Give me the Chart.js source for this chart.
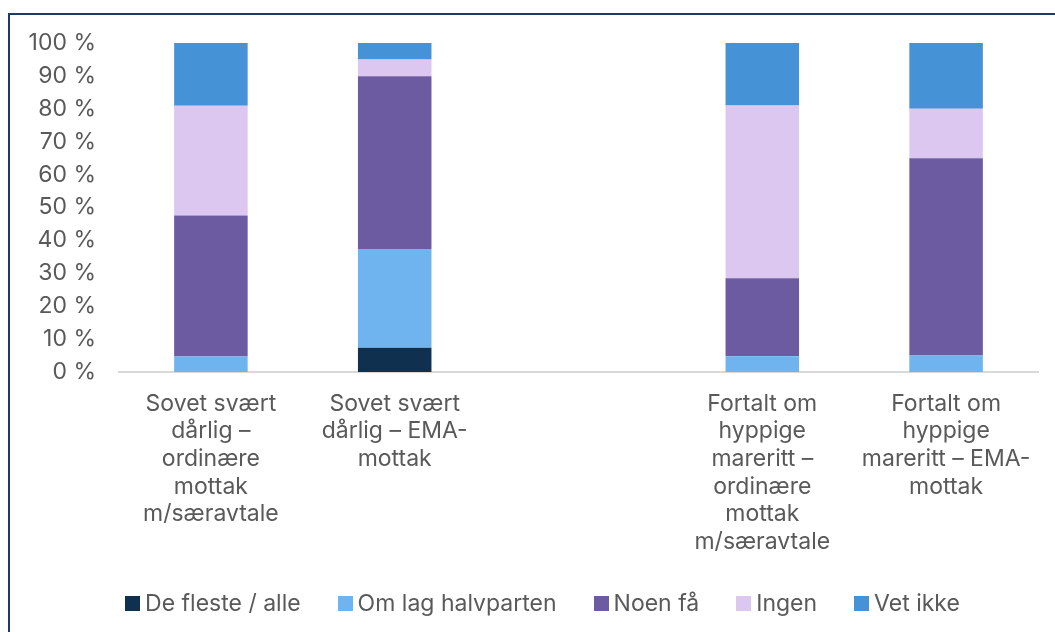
<!DOCTYPE html>
<html>
<head>
<meta charset="utf-8">
<script src="https://cdn.jsdelivr.net/npm/chart.js@4.4.1/dist/chart.umd.min.js"></script>
<style>
  html, body { margin: 0; padding: 0; background: #fff; overflow: hidden; }
  #wrap { position: absolute; left: 0; top: 0; width: 1055px; height: 632px; }
  #frame { position: absolute; left: 8px; top: 13px; width: 1100px; height: 700px; border: 2px solid #1f3864; box-sizing: border-box; pointer-events: none; }
  canvas { position: absolute; left: 0; top: 0; }
</style>
</head>
<body>
<div id="wrap">
  <canvas id="c" width="1055" height="632"></canvas>
  <div id="frame"></div>
</div>
<script>
const categories = [
  ["Sovet svært", "dårlig –", "ordinære", "mottak", "m/særavtale"],
  ["Sovet svært", "dårlig – EMA-", "mottak"],
  [""],
  ["Fortalt om", "hyppige", "mareritt –", "ordinære", "mottak", "m/særavtale"],
  ["Fortalt om", "hyppige", "mareritt – EMA-", "mottak"]
];
const seriesNames = ["De fleste / alle", "Om lag halvparten", "Noen få", "Ingen", "Vet ikke"];
const deFleste = [0, 7.4, null, 0, 0];
const omLagHalvparten = [4.7, 30, null, 4.8, 5];
const noenFa = [42.9, 52.5, null, 23.7, 60];
const ingen = [33.3, 5.1, null, 52.5, 15];
const vetIkke = [19.1, 5, null, 19, 20];
const yTicks = [0, 10, 20, 30, 40, 50, 60, 70, 80, 90, 100];

const colors = ["#10304f", "#70b4ef", "#6c5ba1", "#dcc7f0", "#4692d6"];
const seriesData = [deFleste, omLagHalvparten, noenFa, ingen, vetIkke];

const FONT = "Inter, 'Open Sans', sans-serif";
const TXT = "#595959";
const FS = 23;

// Custom legend drawn from the chart's own datasets
const legendPlugin = {
  id: "customLegend",
  afterDraw(chart) {
    const ctx = chart.ctx;
    ctx.save();
    ctx.font = FS + "px " + FONT;
    ctx.textBaseline = "middle";
    ctx.textAlign = "left";
    const box = 15, gapBox = 5, gapItem = 37, cy = 603;
    const items = chart.data.datasets.map(ds => ({ text: ds.label, color: ds.backgroundColor, w: ctx.measureText(ds.label).width }));
    const total = items.reduce((a, it) => a + box + gapBox + it.w, 0) + gapItem * (items.length - 1);
    let x = 542.5 - total / 2;
    items.forEach(it => {
      ctx.fillStyle = it.color;
      ctx.fillRect(Math.round(x), Math.round(cy - box / 2), box, box);
      ctx.fillStyle = TXT;
      ctx.fillText(it.text, x + box + gapBox, cy + 1);
      x += box + gapBox + it.w + gapItem;
    });
    ctx.restore();
  }
};

new Chart(document.getElementById("c"), {
  type: "bar",
  data: {
    labels: categories,
    datasets: seriesData.map((d, i) => ({
      label: seriesNames[i],
      data: d,
      backgroundColor: colors[i],
      borderWidth: 0,
      categoryPercentage: 1,
      barPercentage: 0.4
    }))
  },
  plugins: [legendPlugin],
  options: {
    responsive: false,
    animation: false,
    devicePixelRatio: 1,
    layout: { padding: { left: 0, right: 17, top: 43, bottom: 0 } },
    plugins: {
      tooltip: { enabled: false },
      legend: { display: false }
    },
    scales: {
      x: {
        stacked: true,
        grid: { display: false },
        border: { display: true, color: "#d9d9d9", width: 2 },
        ticks: {
          color: TXT,
          font: { family: FONT, size: FS, lineHeight: 1.2 },
          padding: 10,
          maxRotation: 0,
          autoSkip: false
        },
        afterFit: (s) => { s.height = 260; }
      },
      y: {
        stacked: true,
        min: 0,
        max: 100,
        afterBuildTicks: (s) => { s.ticks = yTicks.map(v => ({ value: v })); },
        grid: { display: false },
        border: { display: false },
        ticks: {
          color: TXT,
          font: { family: FONT, size: FS },
          padding: 15,
          callback: (v) => v + " %"
        },
        afterFit: (s) => { s.width = 119; }
      }
    }
  }
});
</script>
</body>
</html>
